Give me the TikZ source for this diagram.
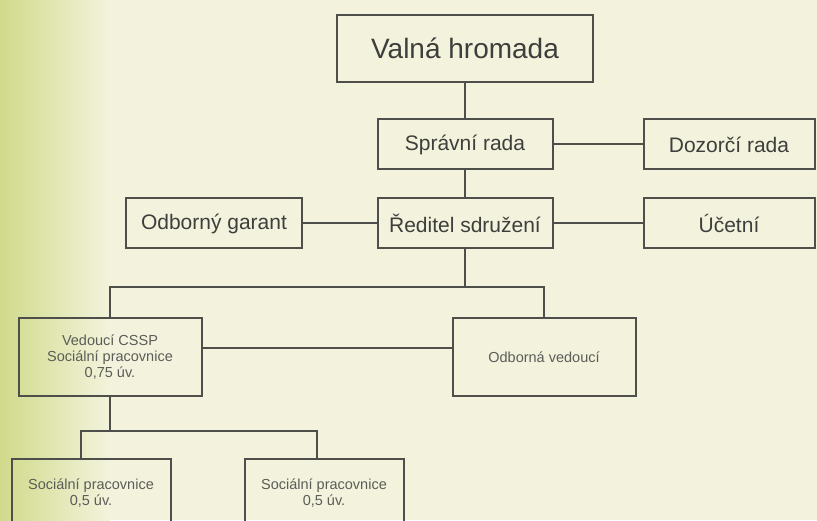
\documentclass[tikz,border=0pt]{standalone}
\usepackage{fontspec}
\setmainfont{Liberation Sans}
\usetikzlibrary{positioning}
\definecolor{bgcream}{RGB}{243,243,221}
\definecolor{bggreen}{RGB}{208,218,138}
\definecolor{linegray}{RGB}{78,78,74}
\definecolor{textgray}{RGB}{62,62,60}
\definecolor{smallgray}{RGB}{92,92,88}

\begin{document}
\begin{tikzpicture}[x=1pt,y=1pt,on grid,node distance=2cm,
   unit/.style={draw=linegray,line width=2pt,text=textgray,inner sep=0pt,align=center},
   big/.style={unit,minimum width=256pt,minimum height=67pt,font=\fontsize{28}{32}\selectfont},
   mid/.style={unit,minimum width=175pt,minimum height=50pt,font=\fontsize{21}{25}\selectfont},
   small/.style={unit,text=smallgray,minimum width=183pt,minimum height=78pt,font=\fontsize{14.5}{16}\selectfont},
   link/.style={draw=linegray,line width=2pt}]
   \path[use as bounding box,clip] (0,0) rectangle (817,520);
   % background
   \fill[bgcream] (0,0) rectangle (817,520);
   \shade[left color=bggreen,right color=bgcream] (0,0) rectangle (110,520);

   \node[big] (valna) at (465,471.5) {Valná hromada};
   \node[mid] (sprava) [below=96pt of valna] {Správní rada};
   \node[mid] (reditel) [below=79pt of sprava] {Ředitel sdružení};
   \node[mid,minimum width=171pt] (dozor) [right=264pt of sprava] {Dozorčí rada};
   \node[mid,minimum width=171pt] (ucetni) [right=264pt of reditel] {Účetní};
   \node[mid,minimum width=176pt] (garant) [left=251pt of reditel] {Odborný garant};
   \node[small] (vedouci) [below left=133.5pt and 355pt of reditel] {Vedoucí CSSP\\Sociální pracovnice\\0,75 úv.};
   \node[small] (odborna) [right=434pt of vedouci] {Odborná vedoucí};
   \node[small,minimum width=159pt,minimum height=68pt] (soc1) [below left=136pt and 19pt of vedouci] {Sociální pracovnice\\0,5 úv.};
   \node[small,minimum width=159pt,minimum height=68pt] (soc2) [right=233pt of soc1] {Sociální pracovnice\\0,5 úv.};

   \path[link]
        (valna) edge (sprava)
        (sprava) edge (reditel)
        (sprava) edge (dozor)
        (reditel) edge (ucetni)
        (garant) edge (reditel)
        ;
   \draw[link] ([yshift=9pt]vedouci.east) -- ([yshift=9pt]odborna.west);
   \draw[link] (reditel.south) -- ++(0,-38) coordinate (fork);
   \draw[link] (vedouci.north) |- (fork) -| (odborna.north);
   \draw[link] (vedouci.south) -- ++(0,-34) coordinate (subfork);
   \draw[link] ([xshift=-10.5pt]soc1.north) |- (subfork) -| ([xshift=-7.5pt]soc2.north);
\end{tikzpicture}
\end{document}
